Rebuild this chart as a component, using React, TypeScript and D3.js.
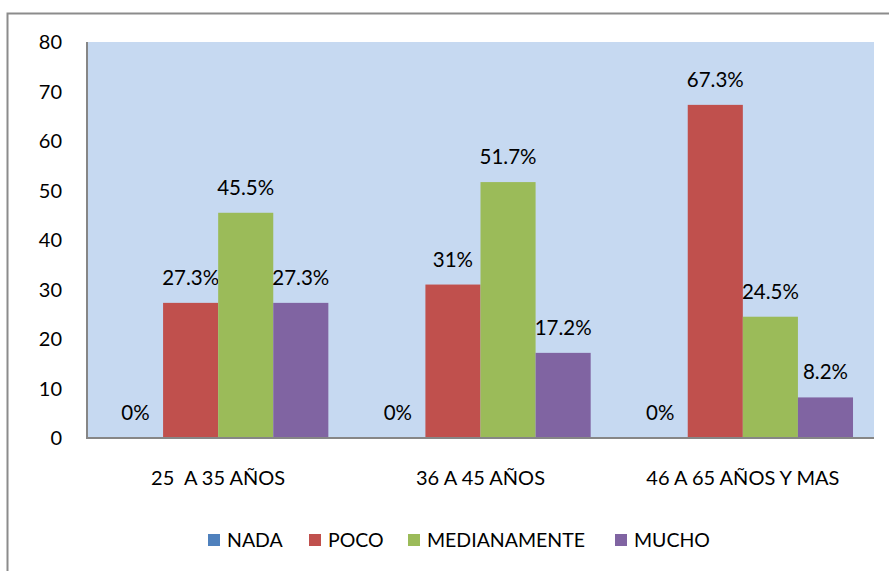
import { useEffect, useRef } from "react";
import * as d3 from "d3";

const categories = ["25  A 35 AÑOS", "36 A 45 AÑOS", "46 A 65 AÑOS Y MAS"];
const seriesNames = ["NADA", "POCO", "MEDIANAMENTE", "MUCHO"];
const seriesColors = ["#4F81BD", "#C0504D", "#9BBB59", "#8064A2"];
const nada = [0, 0, 0];
const poco = [27.3, 31, 67.3];
const medianamente = [45.5, 51.7, 24.5];
const mucho = [27.3, 17.2, 8.2];
const yTicks = [0, 10, 20, 30, 40, 50, 60, 70, 80];

const W = 889;
const H = 571;
const FONT = "Lato, 'Open Sans', sans-serif";

export default function App() {
  const svgRef = useRef<SVGSVGElement>(null);

  useEffect(() => {
    const svg = d3.select(svgRef.current!);
    svg.selectAll("*").remove();

    const series = [nada, poco, medianamente, mucho];
    const plot = { left: 87, right: 874, top: 42, bottom: 438 };

    // outer chart border (right and bottom fall off the picture)
    svg.append("rect")
      .attr("x", 7.5).attr("y", 13.5)
      .attr("width", W + 20).attr("height", H + 20)
      .attr("fill", "#fff").attr("stroke", "#8c8c8c").attr("stroke-width", 2);

    const x0 = d3.scaleBand<string>()
      .domain(categories)
      .range([plot.left, plot.right])
      .paddingInner(0).paddingOuter(0);
    const inner = 0.84; // 4 bars of a group, gap ~75% of a bar
    const x1 = d3.scaleBand<string>()
      .domain(seriesNames)
      .range([0, x0.bandwidth() * inner]);
    const y = d3.scaleLinear().domain([0, 80]).range([plot.bottom, plot.top]);

    svg.append("rect")
      .attr("x", plot.left).attr("y", plot.top)
      .attr("width", plot.right - plot.left).attr("height", plot.bottom - plot.top)
      .attr("fill", "#C6D9F1");

    const offset = x0.bandwidth() * (1 - inner) / 2;

    categories.forEach((c, ci) => {
      seriesNames.forEach((s, si) => {
        const v = series[si][ci];
        const bx = x0(c)! + offset + x1(s)!;
        const bw = x1.bandwidth();
        if (v > 0) {
          svg.append("rect")
            .attr("x", bx).attr("y", y(v))
            .attr("width", bw).attr("height", y(0) - y(v))
            .attr("fill", seriesColors[si]);
        }
        svg.append("text")
          .attr("x", bx + bw / 2).attr("y", y(v) - 18)
          .attr("text-anchor", "middle")
          .attr("font-family", FONT).attr("font-size", 20.5)
          .attr("fill", "#000")
          .text(`${v}%`);
      });
    });

    // axes lines
    svg.append("line")
      .attr("x1", plot.left).attr("x2", plot.left)
      .attr("y1", plot.top).attr("y2", plot.bottom)
      .attr("stroke", "#868686").attr("stroke-width", 2);
    svg.append("line")
      .attr("x1", plot.left - 1).attr("x2", plot.right)
      .attr("y1", plot.bottom).attr("y2", plot.bottom)
      .attr("stroke", "#868686").attr("stroke-width", 2);

    svg.selectAll("text.ytick")
      .data(yTicks)
      .join("text")
      .attr("class", "ytick")
      .attr("x", 62).attr("y", (d) => y(d))
      .attr("dy", "0.36em")
      .attr("text-anchor", "end")
      .attr("font-family", FONT).attr("font-size", 20)
      .text((d) => d);

    svg.selectAll("text.xcat")
      .data(categories)
      .join("text")
      .attr("class", "xcat")
      .attr("x", (d) => x0(d)! + x0.bandwidth() / 2)
      .attr("y", 478).attr("dy", "0.36em")
      .attr("text-anchor", "middle")
      .attr("font-family", FONT).attr("font-size", 20)
      .attr("xml:space", "preserve")
      .style("white-space", "pre")
      .text((d) => d);

    // legend
    const legendX = [208, 309, 408, 615];
    const lg = svg.append("g");
    seriesNames.forEach((s, i) => {
      lg.append("rect")
        .attr("x", legendX[i]).attr("y", 534)
        .attr("width", 12).attr("height", 12)
        .attr("fill", seriesColors[i]);
      lg.append("text")
        .attr("x", legendX[i] + 19).attr("y", 540).attr("dy", "0.36em")
        .attr("font-family", FONT).attr("font-size", 19.5)
        .text(s);
    });
  }, []);

  return (
    <svg
      ref={svgRef}
      width={W}
      height={H}
      style={{ position: "absolute", left: 0, top: 0, display: "block", background: "#fff" }}
    />
  );
}
